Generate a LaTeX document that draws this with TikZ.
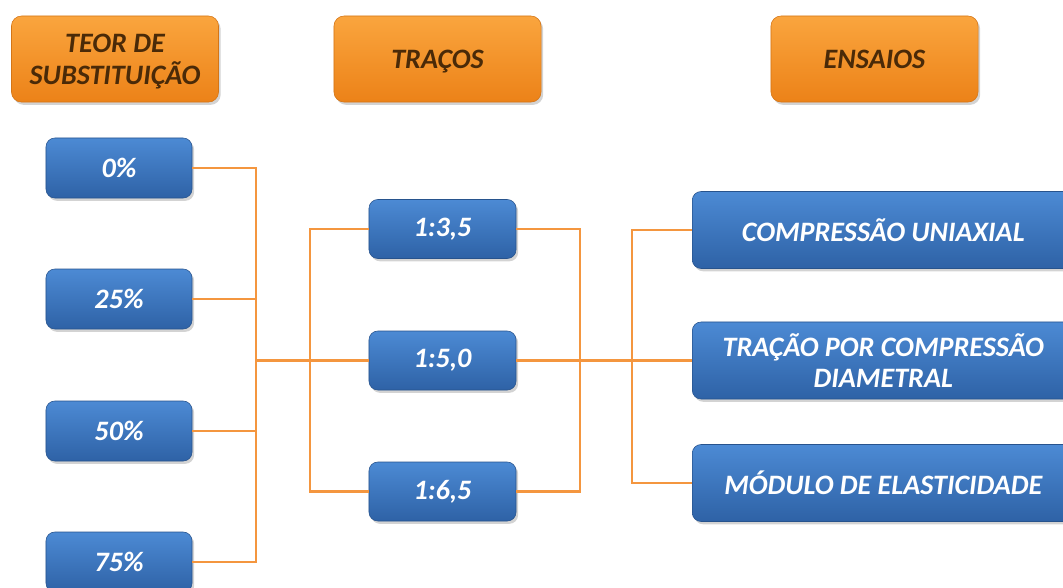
\documentclass[tikz,border=0pt]{standalone}
\usepackage{fontspec}
\setmainfont{Carlito}
\usepackage{tikz}
\usetikzlibrary{shadows}
\usetikzlibrary{positioning, calc}

\definecolor{orangetop}{HTML}{FAA53E}
\definecolor{orangebot}{HTML}{EC8218}
\definecolor{bluetop}{HTML}{4C8AD4}
\definecolor{bluebot}{HTML}{2E62A6}
\definecolor{linkorange}{HTML}{F4963F}
\definecolor{headtext}{HTML}{4A2A08}

\begin{document}
\begin{tikzpicture}[
    x=0.025cm, y=-0.025cm,
    header/.style={rectangle, rounded corners=0.25cm, minimum width=5.175cm, minimum height=2.15cm, align=center, text depth=0pt, top color=orangetop, bottom color=orangebot, draw=orangebot!90!black, thin, drop shadow={shadow xshift=1.5pt, shadow yshift=-2pt, opacity=0.35}, font=\fontsize{20}{23}\selectfont\bfseries\itshape, text=headtext},
    item/.style={rectangle, rounded corners=0.22cm, align=center, top color=bluetop, bottom color=bluebot, draw=bluebot!85!black, thin, drop shadow={shadow xshift=1.5pt, shadow yshift=-2pt, opacity=0.35}, font=\fontsize{20}{22}\selectfont\bfseries\itshape, text=white},
    teor/.style={item, minimum width=3.65cm, minimum height=1.5cm},
    traco/.style={item, minimum width=3.675cm, minimum height=1.475cm},
    ensaio/.style={item, minimum width=9.55cm, minimum height=1.925cm},
    link/.style={draw=linkorange, line width=2.1pt}
]
    \useasboundingbox (0,0) rectangle (1063,587);

    % --- Headers ---
    \node[header] (hteor) at (115,59) {TEOR DE\\SUBSTITUIÇÃO};
    \node[header] (htraco) at (437.5,59) {TRAÇOS};
    \node[header] (hensaio) at (874.5,59) {ENSAIOS};

    % --- Teor de substituicao ---
    \node[teor] (t0) at (119,168) {0\%};
    \node[teor] (t25) at (119,299) {25\%};
    \node[teor] (t50) at (119,431) {50\%};
    \node[teor] (t75) at (119,562) {75\%};

    % --- Tracos ---
    \node[traco] (r35) at (442.5,229) {1:3,5};
    \node[traco] (r50) at (442.5,360.5) {1:5,0};
    \node[traco] (r65) at (442.5,491.5) {1:6,5};

    % --- Ensaios ---
    \node[ensaio, anchor=west] (ecomp) at (692,230) {COMPRESSÃO UNIAXIAL};
    \node[ensaio, anchor=west] (etrac) at (692,360.5) {TRAÇÃO POR COMPRESSÃO\\DIAMETRAL};
    \node[ensaio, anchor=west] (emod) at (692,483) {MÓDULO DE ELASTICIDADE};

    % --- Bus coordinates ---
    \coordinate (busA) at (256,360.5);
    \coordinate (busB) at (310,360.5);
    \coordinate (busC) at (580,360.5);
    \coordinate (busD) at (632,360.5);

    % --- Teor to tracos ---
    \draw[link] (t0.east) -| (busA) |- (t75.east);
    \draw[link] (t25.east) -- (t25.east -| busA);
    \draw[link] (t50.east) -- (t50.east -| busA);
    \draw[link] (busA) -- (r50.west);
    \draw[link] (r35.west) -| (busB) |- (r65.west);

    % --- Tracos to ensaios ---
    \draw[link] (r35.east) -| (busC) |- (r65.east);
    \draw[link] (r50.east) -- (etrac.west);
    \draw[link] (ecomp.west) -| (busD) |- (emod.west);

\end{tikzpicture}
\end{document}
